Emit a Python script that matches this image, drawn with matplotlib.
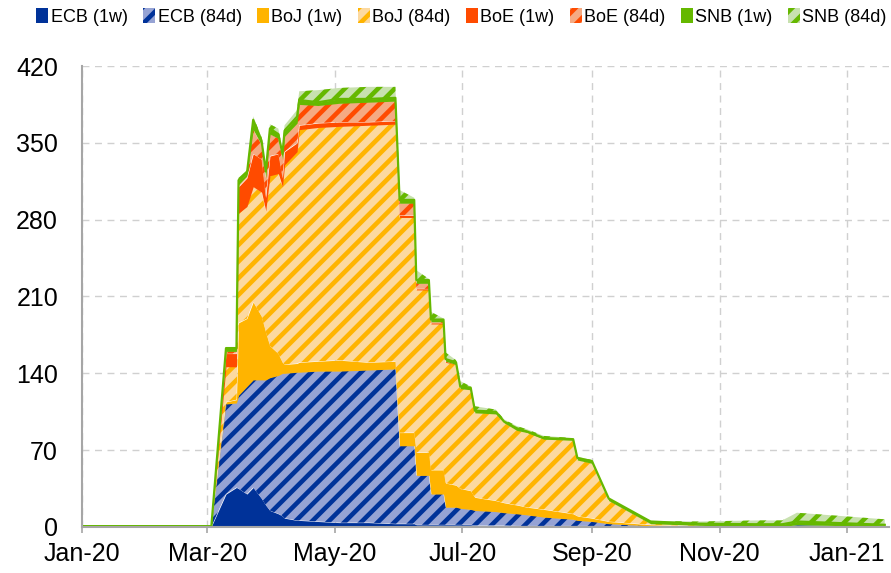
import numpy as np
import pandas as pd
import matplotlib
matplotlib.use("Agg")
import matplotlib.pyplot as plt
import matplotlib.dates as mdates
from matplotlib.patches import Patch

# dates of the observations (USD bn outstanding)
dates = ["2020-01-01", "2020-03-03", "2020-03-10", "2020-03-15", "2020-03-16", "2020-03-20",
         "2020-03-23", "2020-03-27", "2020-03-29", "2020-03-31", "2020-04-04", "2020-04-06",
         "2020-04-07", "2020-04-13", "2020-04-14", "2020-04-23", "2020-05-03", "2020-05-17",
         "2020-05-30", "2020-06-01", "2020-06-08", "2020-06-09", "2020-06-15", "2020-06-16",
         "2020-06-22", "2020-06-23", "2020-06-28", "2020-06-30", "2020-07-05", "2020-07-07",
         "2020-07-17", "2020-07-21", "2020-07-27", "2020-08-01", "2020-08-09", "2020-08-23",
         "2020-08-25", "2020-09-01", "2020-09-09", "2020-09-29", "2020-10-22", "2020-11-19",
         "2020-12-01", "2020-12-08", "2021-01-19"]

ecb_1w = [0.5, 0.5, 30, 36, 35, 30, 36, 26, 20, 15, 12, 10, 8, 6, 6, 5, 4, 4, 3, 3, 3,
          2, 2, 2, 2, 2, 2, 2, 2, 1.5, 1.5, 1.5, 1, 1, 1, 1, 1, 1, 0.5, 0.5, 0.5, 0.5, 0.5, 2, 0.5]
ecb_84d = [0, 0, 82, 77, 85, 98, 98, 108, 114, 121, 126, 130, 132, 135, 135, 137, 138, 139, 141,
           71, 71, 45, 45, 28, 28, 16, 16, 15, 14, 13.5, 12.5, 11.5, 11, 10, 8, 6, 5, 4, 2.5,
           0.5, 0, 0, 0, 0, 0]
boj_1w = [0, 0, 2, 3, 66, 62, 71, 58, 44, 29, 20, 10, 8, 8, 9, 9, 10, 7, 7, 12, 12, 21, 21,
          22, 22, 22, 20, 18, 17, 12, 10, 9, 8, 7, 7, 5, 4, 3, 2, 1, 0.5, 0, 0, 0, 0]
boj_84d = [0, 0, 32, 30, 100, 102, 105, 113, 110, 155, 164, 160, 182, 193, 212, 213, 213, 216,
           216, 196, 196, 148, 148, 133, 133, 110, 110, 91, 92, 77, 79, 73, 68, 68, 64, 67, 51,
           50, 19, 1, 0.5, 0, 0, 0, 0]
boe_1w = [0, 0, 12, 12, 24, 26, 30, 30, 12, 18, 18, 8, 12, 8, 4, 4, 4, 3, 3, 2, 2, 1, 1, 1,
          1, 1, 0, 0, 0, 0, 0, 0, 0, 0, 0, 0, 0, 0, 0, 0, 0, 0, 0, 0, 0]
boe_84d = [0, 0, 2, 2, 2, 2, 22, 13, 18, 20, 14, 17, 14, 18, 19, 16, 17, 18, 18, 11, 11, 5, 5,
           1, 1, 0, 0, 0, 0, 0, 0, 0, 0, 0, 0, 0, 0, 0, 0, 0, 0, 0, 0, 0, 0]
snb_1w = [0.3, 0.3, 3, 3, 4, 2, 9, 4, 6, 5, 4, 5, 5, 6, 4, 3, 4, 3, 3, 3, 3, 3, 3, 2, 2, 2,
          2, 2, 2, 2, 2, 1, 2, 1, 1, 1, 2, 2, 2, 2, 1.5, 2, 2, 3, 1.5]
snb_84d = [0, 0, 1, 1, 2, 3, 3, 3, 3, 4, 5, 4, 5, 6, 8, 11, 10, 11, 10, 9, 2, 9, 1, 7, 1, 6,
           2, 5, 1, 4, 2, 2, 2, 2, 2, 1, 1, 1, 0, 0.5, 2, 3.5, 3.5, 8, 5]

labels = ["ECB (1w)", "ECB (84d)", "BoJ (1w)", "BoJ (84d)",
          "BoE (1w)", "BoE (84d)", "SNB (1w)", "SNB (84d)"]

plt.rcParams["font.family"] = ["Liberation Sans", "DejaVu Sans"]
plt.rcParams["hatch.linewidth"] = 3.3

x = pd.to_datetime(dates)
series = [ecb_1w, ecb_84d, boj_1w, boj_84d, boe_1w, boe_84d, snb_1w, snb_84d]
# (solid colour, light background for hatched)
cols = [("#003299", None), ("#003299", "#96A3D4"),
        ("#FFB400", None), ("#FFB400", "#FCD9A0"),
        ("#FF4B00", None), ("#FF4B00", "#F5AA82"),
        ("#65B800", None), ("#65B800", "#C8E1AF")]

fig = plt.figure(figsize=(8.91, 5.73), dpi=100)
ax = fig.add_axes([0.0917, 0.0803, 0.906, 0.8045])

bottom = np.zeros(len(dates))
handles = []
for vals, (dark, light), lab in zip(series, cols, labels):
    top = bottom + np.array(vals, dtype=float)
    if light is None:
        ax.fill_between(x, bottom, top, facecolor=dark, edgecolor=dark, linewidth=0)
        handles.append(Patch(facecolor=dark, edgecolor=dark, linewidth=0, label=lab))
    else:
        ax.fill_between(x, bottom, top, facecolor=light, edgecolor=dark, hatch="//", linewidth=0)
        handles.append(Patch(facecolor=light, edgecolor=dark, hatch="//", linewidth=0, label=lab))
    if lab == "SNB (1w)":
        snb_top = top.copy()
    bottom = top

# green outline along the SNB (1w) band
ax.plot(x, snb_top, color="#65B800", lw=1.6, solid_joinstyle="round")

ax.set_ylim(0, 420)
ax.set_yticks(np.arange(0, 421, 70))
ax.set_xlim(pd.Timestamp("2020-01-01"), pd.Timestamp("2021-01-21"))
ax.set_xticks(pd.to_datetime(["2020-01-01", "2020-03-01", "2020-05-01", "2020-07-01",
                              "2020-09-01", "2020-11-01", "2021-01-01"]))
ax.xaxis.set_major_formatter(mdates.DateFormatter("%b-%y"))

ax.grid(True, color="#D0D0D0", linestyle=(0, (5, 4)), linewidth=1)
ax.set_axisbelow(True)
for s in ["top", "right"]:
    ax.spines[s].set_visible(False)
for s in ["left", "bottom"]:
    ax.spines[s].set_color("#A6A6A6")
    ax.spines[s].set_linewidth(1.5)
ax.tick_params(axis="y", length=0, pad=17, labelsize=18)
ax.tick_params(axis="x", length=4, width=1.2, color="#A6A6A6", pad=7, labelsize=18)

fig.legend(handles=handles, loc="center", bbox_to_anchor=(0.518, 0.97), ncol=8,
           frameon=False, fontsize=13, handlelength=0.65, handleheight=0.85,
           handletextpad=0.15, columnspacing=0.85, borderaxespad=0)

fig.savefig("out.png", dpi=100)
